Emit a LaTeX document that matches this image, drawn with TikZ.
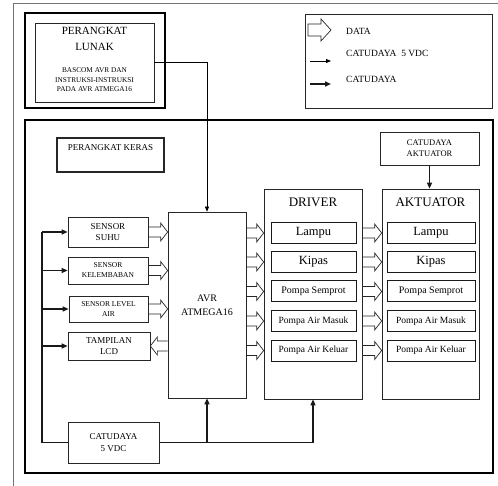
\documentclass[tikz,border=0pt]{standalone}
\usepackage{fontspec}
\setmainfont{Liberation Serif}
\usetikzlibrary{arrows.meta,calc}
\tikzset{
  blk/.style={draw=black!85, line width=0.7pt, align=center, inner sep=0pt},
  inner/.style={draw=black!90, line width=1pt, align=center, inner sep=0pt, minimum width=#1, minimum height=21pt, font=\fontsize{10}{12}\selectfont},
  heavy/.style={draw=black, line width=2.5pt},
  frame/.style={draw=black!55, line width=0.6pt},
  dataln/.style={draw=black!85, line width=0.7pt, line join=miter},
  pow/.style={draw=black!90, line width=1.2pt, -{Triangle[length=6pt,width=5pt]}},
  powln/.style={draw=black!90, line width=1.2pt},
  thinarr/.style={draw=black, line width=0.6pt, -{Triangle[length=5pt,width=4pt]}},
  legtxt/.style={anchor=west, inner sep=0pt, font=\fontsize{9.5}{11}\selectfont},
}
\newcommand\darrR[2]{\draw[dataln] let \p1=#1,\p2=#2 in (\x1,\y1+5pt) -- (\x2-7pt,\y1+5pt) -- (\x2-7pt,\y1+9pt) -- (\x2,\y1) -- (\x2-7pt,\y1-9pt) -- (\x2-7pt,\y1-5pt) -- (\x1,\y1-5pt);}
\newcommand\darrL[2]{\draw[dataln] let \p1=#1,\p2=#2 in (\x1,\y1+5pt) -- (\x2+7pt,\y1+5pt) -- (\x2+7pt,\y1+9pt) -- (\x2,\y1) -- (\x2+7pt,\y1-9pt) -- (\x2+7pt,\y1-5pt) -- (\x1,\y1-5pt);}
\begin{document}
\begin{tikzpicture}[x=1pt,y=-1pt]
\useasboundingbox (0,0) rectangle (498,486);
% outer frame
\draw[frame] (13,487) -- (13,3) -- (499,3);
% perangkat lunak
\draw[heavy] (25,13) rectangle (165,108);
\node[blk, minimum width=119pt, minimum height=79pt] (lunak) at (94.5,62.5) {};
\node[align=center, inner sep=0pt, font=\fontsize{11}{16}\selectfont] (lunakt) at (94.5,39) {PERANGKAT\\LUNAK};
\node[align=center, inner sep=0pt, font=\fontsize{7.3}{9.5}\selectfont] (lunaks) at (94.5,80) {BASCOM AVR DAN\\INSTRUKSI-INSTRUKSI\\PADA AVR ATMEGA16};
% legend
\node[blk, minimum width=187pt, minimum height=94pt] (legend) at (398.5,61) {};
\draw[dataln] (308,24) -- (321,24) -- (321,19) -- (331,30) -- (321,41) -- (321,36) -- (308,36) -- cycle;
\node[legtxt] (l1) at (346,31) {DATA};
\node[legtxt] (l2) at (346,53) {CATUDAYA~ 5 VDC};
\node[legtxt] (l3) at (346,79) {CATUDAYA};
\coordinate (la1) at (310,61); \coordinate (lb1) at (331,61);
\coordinate (la2) at (310,84); \coordinate (lb2) at (331,84);
\draw[thinarr, line width=0.8pt] (la1) -- (lb1);
\draw[pow, line width=1.5pt] (la2) -- (lb2);
% perangkat keras frame
\draw[heavy] (25,120) rectangle (493,473);
\node[blk, line width=2pt, minimum width=107pt, minimum height=34pt] (kerasbox) at (110.5,155) {};
\node[inner sep=0pt, font=\fontsize{9}{11}\selectfont] (kerast) at (110.5,148) {PERANGKAT KERAS};
% sensors
\node[blk, minimum width=80pt, minimum height=30pt, font=\fontsize{9}{11}\selectfont] (suhu) at (108,232) {SENSOR\\SUHU};
\node[blk, minimum width=80pt, minimum height=27pt, font=\fontsize{7.5}{10}\selectfont] (lembab) at (108,270.5) {SENSOR\\KELEMBABAN};
\node[blk, minimum width=79pt, minimum height=26pt, font=\fontsize{7.5}{10}\selectfont] (level) at (108.5,309) {SENSOR LEVEL\\AIR};
\node[blk, minimum width=82pt, minimum height=28pt, font=\fontsize{9}{11}\selectfont] (lcd) at (109,346) {TAMPILAN\\LCD};
% AVR
\node[blk, minimum width=78pt, minimum height=186pt, font=\fontsize{10}{14}\selectfont] (avr) at (207,305) {AVR\\ATMEGA16};
% catudaya 5 vdc
\node[blk, minimum width=91pt, minimum height=41pt, font=\fontsize{9}{12}\selectfont] (catu) at (113.5,442.5) {CATUDAYA\\5 VDC};
% driver
\node[blk, minimum width=98pt, minimum height=210pt] (driver) at (313,294) {};
\node[inner sep=0pt, font=\fontsize{13}{15}\selectfont] (drivert) at (313,202) {DRIVER};
\node[inner=85pt, font=\fontsize{12.5}{14}\selectfont] (d1) at (313.5,233) {Lampu};
\node[inner=85pt, font=\fontsize{12.5}{14}\selectfont] (d2) at (313.5,262) {Kipas};
\node[inner=85pt] (d3) at (313.5,291.5) {Pompa Semprot};
\node[inner=85pt, font=\fontsize{9.5}{11}\selectfont] (d4) at (313.5,321) {Pompa Air Masuk};
\node[inner=85pt, font=\fontsize{9.5}{11}\selectfont] (d5) at (313.5,350.5) {Pompa Air Keluar};
% aktuator
\node[blk, minimum width=97pt, minimum height=210pt] (akt) at (430.5,294) {};
\node[inner sep=0pt, font=\fontsize{13}{15}\selectfont] (aktt) at (430.5,202) {AKTUATOR};
\node[inner=88pt, font=\fontsize{12.5}{14}\selectfont] (a1) at (431,233) {Lampu};
\node[inner=88pt, font=\fontsize{12.5}{14}\selectfont] (a2) at (431,262) {Kipas};
\node[inner=88pt] (a3) at (431,291.5) {Pompa Semprot};
\node[inner=88pt, font=\fontsize{9.5}{11}\selectfont] (a4) at (431,321) {Pompa Air Masuk};
\node[inner=88pt, font=\fontsize{9.5}{11}\selectfont] (a5) at (431,350.5) {Pompa Air Keluar};
% catudaya aktuator
\node[blk, minimum width=99pt, minimum height=33pt, font=\fontsize{8.5}{11}\selectfont] (catuakt) at (429.5,148.5) {CATUDAYA\\AKTUATOR};
\draw[pow, line width=1.5pt] (catuakt.south) -- (catuakt.south |- akt.north);
% software to AVR
\draw[thinarr] (lunak.east) -| (avr.north);
% power bus
\coordinate (bus) at (42,442.5);
\draw[powln] (catu.west) -- (bus) -- (bus |- suhu.west);
\draw[pow] (bus |- suhu.west) -- (suhu.west);
\draw[pow] (bus |- lembab.west) -- (lembab.west);
\draw[pow] (bus |- level.west) -- (level.west);
\draw[pow] (bus |- lcd.west) -- (lcd.west);
\draw[pow] (catu.east) -| (driver.south);
\draw[pow] (catu.east -| avr.south) -- (avr.south);
% data arrows
\darrR{(suhu.east)}{(avr.west |- suhu.east)}
\darrR{(lembab.east)}{(avr.west |- lembab.east)}
\darrR{(level.east)}{(avr.west |- level.east)}
\darrL{(avr.west |- lcd.east)}{(lcd.east)}
\foreach \i in {1,...,5}{
  \darrR{(avr.east |- d\i.west)}{(driver.west |- d\i.west)}
  \darrR{(driver.east |- d\i.east)}{(akt.west |- d\i.east)}
}
\end{tikzpicture}
\end{document}
